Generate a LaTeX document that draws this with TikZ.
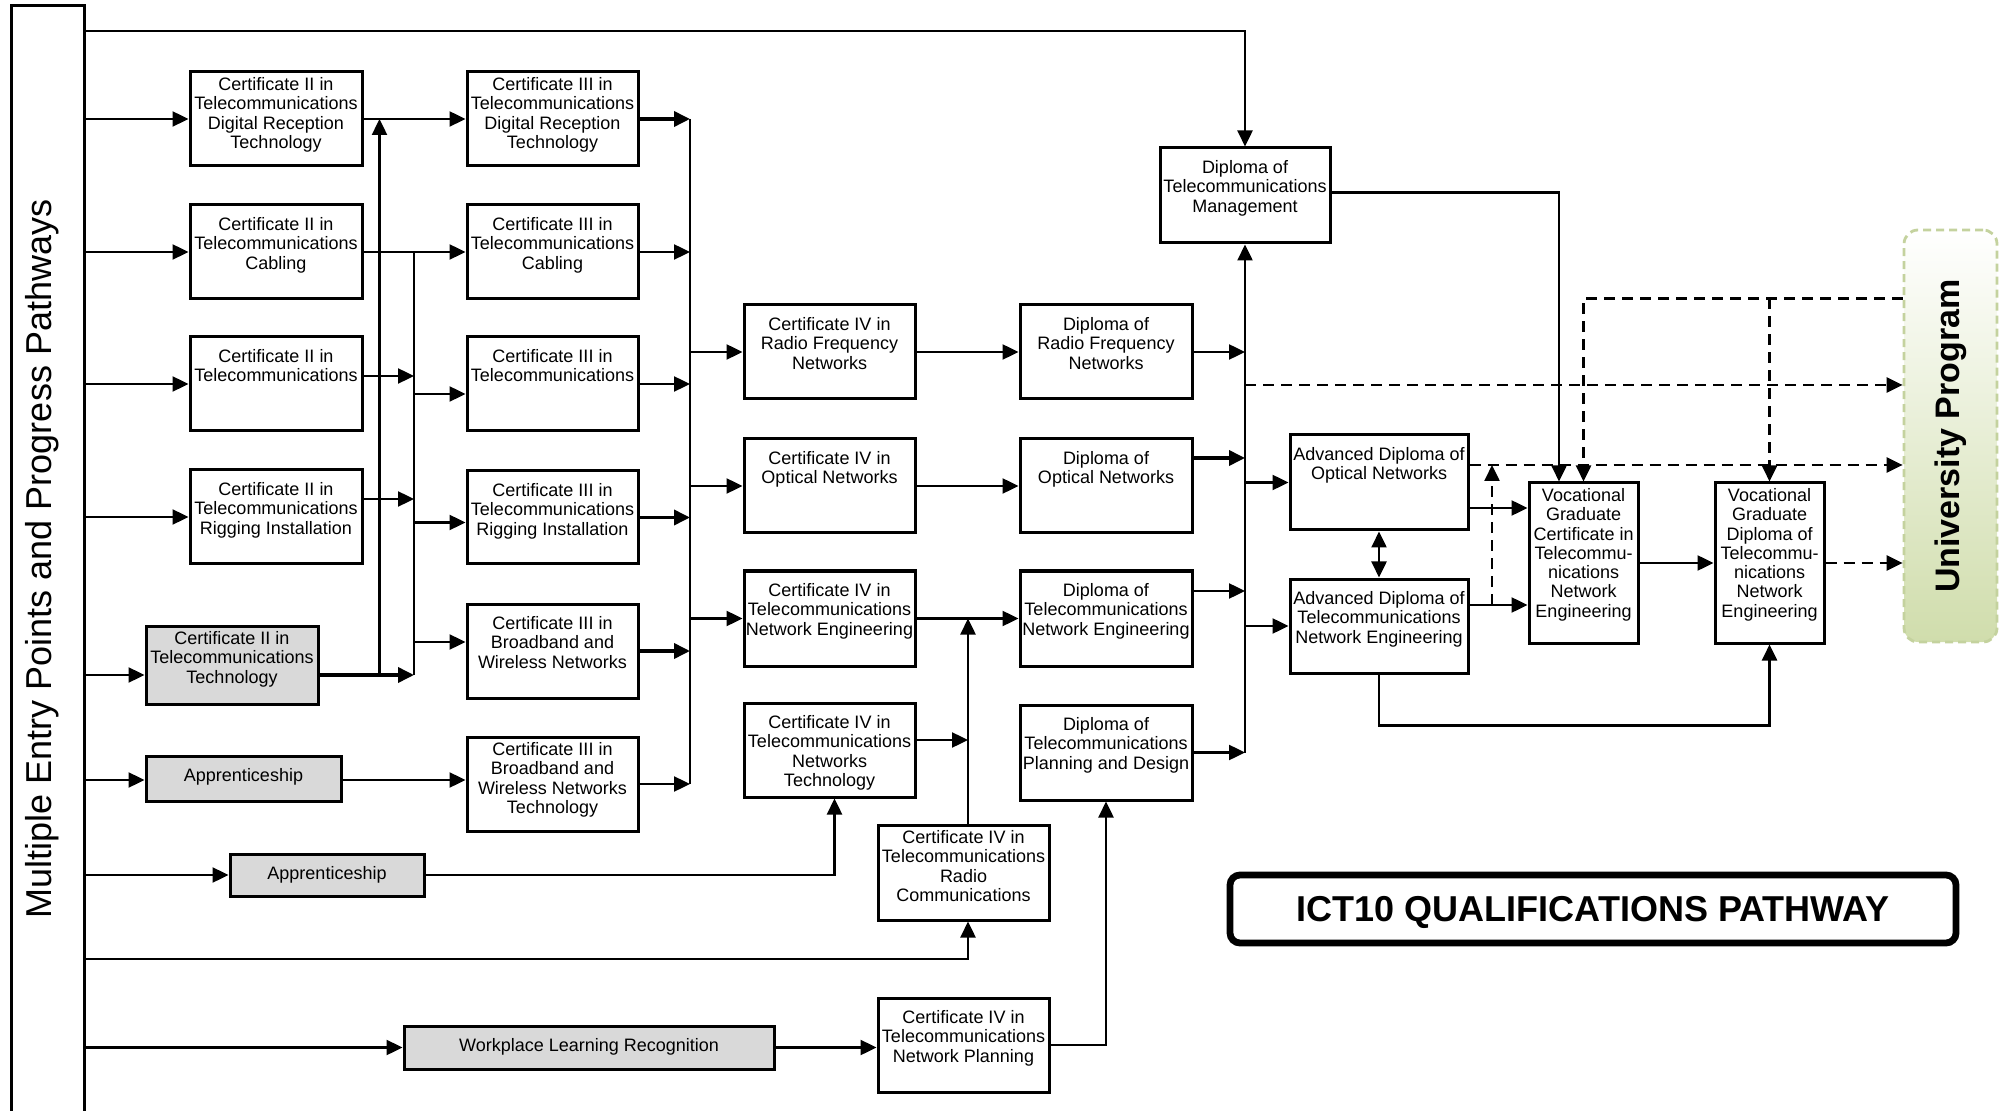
\documentclass[tikz,border=0pt]{standalone}
\usepackage{fontspec}
\setmainfont{Liberation Sans}
\usetikzlibrary{arrows.meta,calc}

\definecolor{greyfill}{RGB}{217,217,217}
\definecolor{upline}{RGB}{196,210,158}
\definecolor{upfill}{RGB}{208,221,172}

\tikzset{
  box/.style={draw, line width=1.5pt, rectangle, inner sep=0pt},
  gbox/.style={box, fill=greyfill},
  txt/.style={align=center, inner sep=0pt, font=\fontsize{9}{9.65}\selectfont},
  ln/.style={line width=1.2pt},
  tln/.style={line width=1.8pt},
  tip/.style={-{Triangle[length=8pt,width=7.5pt]}},
  arr/.style={ln, tip},
  tarr/.style={tln, tip},
  darr/.style={arr, dash pattern=on 5.5pt off 3.5pt},
}

% #1 text offset, #2 style, #3 name, #4 x1, #5 y1, #6 x2, #7 y2, #8 text
\newcommand\qbox[8][13.5]{%
  \node[#2, minimum width={(#6-#4)*0.5pt}, minimum height={(#7-#5)*0.5pt}] (#3) at ({(#4+#6)/2},{(#5+#7)/2}) {};
  \node[txt, anchor=north] (#3t) at ($(#3.north)+(0,#1)$) {#8};
}

\begin{document}
\begin{tikzpicture}[x=0.5pt,y=-0.5pt]
\useasboundingbox (0,0) rectangle (2005,1111);

% left panel
\node[box, minimum width={73*0.5pt}, minimum height={1120*0.5pt}] (P) at (47.5,566) {};
\node[rotate=90, inner sep=0pt, font=\fontsize{18}{20}\selectfont] (Pt) at (42,559) {Multiple Entry Points and Progress Pathways};

% Cert II column
\qbox[6.5]{box}{C2DRT}{190}{72}{362}{166}{Certificate II in\\Telecommunications\\Digital Reception\\Technology}
\qbox{box}{C2Cab}{190}{205}{362}{299}{Certificate II in\\Telecommunications\\Cabling}
\qbox{box}{C2Tel}{190}{337}{362}{431}{Certificate II in\\Telecommunications}
\qbox{box}{C2Rig}{190}{470}{362}{564}{Certificate II in\\Telecommunications\\Rigging Installation}
\qbox[6.5]{gbox}{C2Tech}{146}{626}{318}{704}{Certificate II in\\Telecommunications\\Technology}
\qbox{gbox}{App1}{146}{756}{341}{801}{Apprenticeship}
\qbox{gbox}{App2}{230}{854}{424}{896}{Apprenticeship}
\qbox{gbox}{WLR}{404}{1026}{774}{1069}{Workplace Learning Recognition}

% Cert III column
\qbox[6.5]{box}{C3DRT}{467}{72}{638}{166}{Certificate III in\\Telecommunications\\Digital Reception\\Technology}
\qbox{box}{C3Cab}{467}{205}{638}{299}{Certificate III in\\Telecommunications\\Cabling}
\qbox{box}{C3Tel}{467}{337}{638}{431}{Certificate III in\\Telecommunications}
\qbox{box}{C3Rig}{467}{471}{638}{564}{Certificate III in\\Telecommunications\\Rigging Installation}
\qbox{box}{C3BW}{467}{604}{638}{698}{Certificate III in\\Broadband and\\Wireless Networks}
\qbox[6.5]{box}{C3BWT}{467}{737}{638}{831}{Certificate III in\\Broadband and\\Wireless Networks\\Technology}

% Cert IV column
\qbox{box}{C4RF}{744}{305}{915}{399}{Certificate IV in\\Radio Frequency\\Networks}
\qbox{box}{C4Opt}{744}{439}{915}{533}{Certificate IV in\\Optical Networks}
\qbox{box}{C4NE}{744}{571}{915}{666}{Certificate IV in\\Telecommunications\\Network Engineering}
\qbox{box}{C4NT}{744}{703}{915}{797}{Certificate IV in\\Telecommunications\\Networks\\Technology}
\qbox[6.5]{box}{C4RC}{878}{825}{1049}{920}{Certificate IV in\\Telecommunications\\Radio\\Communications}
\qbox{box}{C4NP}{878}{998}{1049}{1092}{Certificate IV in\\Telecommunications\\Network Planning}

% Diplomas
\qbox{box}{DRF}{1020}{305}{1192}{399}{Diploma of\\Radio Frequency\\Networks}
\qbox{box}{DOpt}{1020}{439}{1192}{533}{Diploma of\\Optical Networks}
\qbox{box}{DNE}{1020}{571}{1192}{666}{Diploma of\\Telecommunications\\Network Engineering}
\qbox{box}{DPD}{1020}{705}{1192}{800}{Diploma of\\Telecommunications\\Planning and Design}
\qbox{box}{DMgmt}{1160}{148}{1330}{243}{Diploma of\\Telecommunications\\Management}

% Advanced diplomas and graduate
\qbox{box}{ADOpt}{1290}{435}{1468}{530}{Advanced Diploma of\\Optical Networks}
\qbox{box}{ADNE}{1290}{579}{1468}{673}{Advanced Diploma of\\Telecommunications\\Network Engineering}
\qbox[6.5]{box}{VGC}{1529}{483}{1638}{643}{Vocational\\Graduate\\Certificate in\\Telecommu-\\nications\\Network\\Engineering}
\qbox[6.5]{box}{VGD}{1715}{483}{1824}{643}{Vocational\\Graduate\\Diploma of\\Telecommu-\\nications\\Network\\Engineering}

% University program
\node[draw=upline, line width=1.4pt, dash pattern=on 4pt off 2.5pt, rounded corners=7pt,
      top color=white, bottom color=upfill, middle color=upfill!50,
      minimum width={93*0.5pt}, minimum height={412*0.5pt}, inner sep=0pt] (UP) at (1950.5,436) {};
\node[rotate=90, inner sep=0pt, font=\bfseries\fontsize{17}{18}\selectfont] (UPt) at (UP.center) {University Program};

% title
\node[draw, line width=3.4pt, rounded corners=5pt, minimum width={726*0.5pt}, minimum height={68*0.5pt}, inner sep=0pt] (T) at (1593,909) {};
\node[inner sep=0pt, font=\bfseries\fontsize{18}{20}\selectfont] (Tt) at (1593,912) {ICT10 QUALIFICATIONS PATHWAY};

% helper coordinates
\coordinate (v0) at (379.5,0);
\coordinate (v1) at (414,0);
\coordinate (b1) at (690,0);
\coordinate (rcx) at (968,0);
\coordinate (b2) at (1245,0);
\coordinate (dv) at (1492,0);
\coordinate (ytop) at (0,298.5);
\coordinate (Ptop) at (84,31);
\coordinate (Pb) at (84,959);
\coordinate (dsh) at (1245,385);

% top line to management
\draw[arr] (Ptop) -| (DMgmt.north);

% panel to entries
\draw[arr] (P.east |- C2DRT.west) -- (C2DRT.west);
\draw[arr] (P.east |- C2Cab.west) -- (C2Cab.west);
\draw[arr] (P.east |- C2Tel.west) -- (C2Tel.west);
\draw[arr] (P.east |- C2Rig.west) -- (C2Rig.west);
\draw[arr] ($(P.east |- C2Tech.west)+(0,10)$) -- ($(C2Tech.west)+(0,10)$);
\draw[arr] ($(P.east |- App1.west)+(0,1.5)$) -- ($(App1.west)+(0,1.5)$);
\draw[arr] (P.east |- App2.west) -- (App2.west);
\draw[arr] (P.east |- WLR.west) -- (WLR.west);
\draw[arr] (Pb) -| (C4RC.south -| rcx);

% Cert II to Cert III
\draw[arr] (C2DRT.east) -- (C3DRT.west);
\draw[arr] (C2Cab.east) -- (C3Cab.west);
\draw[ln] (C2Cab.east -| v1) -- ($(C2Tech.east -| v1)+(0,10)$);
\draw[arr] ($(C2Tel.east)+(0,-8)$) -- ($(C2Tel.east -| v1)+(0,-8)$);
\draw[arr] ($(C2Rig.east)+(0,-18)$) -- ($(C2Rig.east -| v1)+(0,-18)$);
\draw[tarr] ($(C2Tech.east)+(0,10)$) -- ($(C2Tech.east -| v1)+(0,10)$);
\draw[arr] ($(C2Tech.east -| v0)+(0,10)$) -- (C2DRT.east -| v0);
\draw[arr] ($(C3Tel.west -| v1)+(0,10)$) -- ($(C3Tel.west)+(0,10)$);
\draw[arr] ($(C3Rig.west -| v1)+(0,5)$) -- ($(C3Rig.west)+(0,5)$);
\draw[arr] ($(C3BW.west -| v1)+(0,-9)$) -- ($(C3BW.west)+(0,-9)$);
\draw[arr] ($(App1.east)+(0,1.5)$) -- ($(App1.east -| C3BWT.west)+(0,1.5)$);

% Cert III to bus 1
\draw[tarr] (C3DRT.east) -- (C3DRT.east -| b1);
\draw[arr] (C3Cab.east) -- (C3Cab.east -| b1);
\draw[arr] (C3Tel.east) -- (C3Tel.east -| b1);
\draw[tarr] (C3Rig.east) -- (C3Rig.east -| b1);
\draw[tarr] (C3BW.east) -- (C3BW.east -| b1);
\draw[arr] (C3BWT.east) -- (C3BWT.east -| b1);
\draw[ln] (C3DRT.east -| b1) -- (C3BWT.east -| b1);

% bus 1 to Cert IV
\draw[arr] (C4RF.west -| b1) -- (C4RF.west);
\draw[arr] (C4Opt.west -| b1) -- (C4Opt.west);
\draw[arr] (C4NE.west -| b1) -- (C4NE.west);

% Cert IV to Diplomas
\draw[arr] (C4RF.east) -- (DRF.west);
\draw[arr] (C4Opt.east) -- (DOpt.west);
\draw[arr] (C4NE.east) -- (DNE.west);
\draw[arr] ($(C4NT.east)+(0,-10)$) -- ($(C4NT.east -| rcx)+(0,-10)$);
\draw[arr] (C4RC.north -| rcx) -- (C4NE.east -| rcx);
\draw[arr] (App2.east) -| ($(C4NT.south)+(5,0)$);
\draw[arr] (WLR.east) -- (WLR.east -| C4NP.west);
\draw[arr] (C4NP.east) -| (DPD.south);

% Diplomas to bus 2
\draw[arr] (DRF.east) -- (DRF.east -| b2);
\draw[tarr] ($(DOpt.east)+(0,-28)$) -- ($(DOpt.east -| b2)+(0,-28)$);
\draw[arr] ($(DNE.east)+(0,-27.5)$) -- ($(DNE.east -| b2)+(0,-27.5)$);
\draw[arr] (DPD.east) -- (DPD.east -| b2);
\draw[arr] (DPD.east -| b2) -- (DMgmt.south);

% bus 2 to advanced diplomas
\draw[arr] (ADOpt.west -| b2) -- (ADOpt.west);
\draw[arr] (ADNE.west -| b2) -- (ADNE.west);
\draw[darr] (dsh) -- (dsh -| UP.west);

% advanced diplomas and graduate
\draw[ln, {Triangle[length=8pt,width=7.5pt]}-{Triangle[length=8pt,width=7.5pt]}] (ADOpt.south) -- (ADNE.north);
\draw[arr] ($(ADOpt.east)+(0,25.5)$) -- ($(ADOpt.east -| VGC.west)+(0,25.5)$);
\draw[arr] ($(ADNE.east)+(0,-21)$) -- ($(ADNE.east -| VGC.west)+(0,-21)$);
\draw[arr] (VGC.east) -- (VGD.west);
\draw[arr] (ADNE.south) -- ++(0,51) -| (VGD.south);
\draw[darr] ($(ADOpt.east)+(0,-17.5)$) -- ($(ADOpt.east -| UP.west)+(0,-17.5)$);
\draw[darr] ($(ADNE.east -| dv)+(0,-21)$) -- ($(ADOpt.east -| dv)+(0,-17.5)$);
\draw[darr] (UP.west |- ytop) -| (VGC.north);
\draw[darr] (VGD.north |- ytop) -- (VGD.north);
\draw[arr] ($(DMgmt.east)+(0,-3)$) -| ($(VGC.north)+(-24.5,0)$);
\draw[darr] (VGD.east) -- (VGD.east -| UP.west);

\end{tikzpicture}
\end{document}
